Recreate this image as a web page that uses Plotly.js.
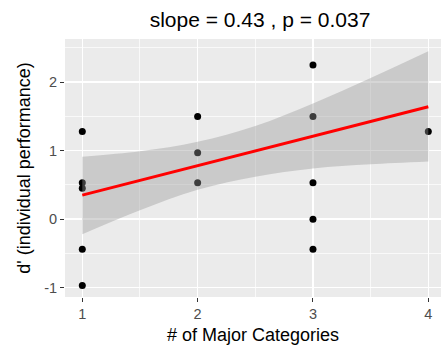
<!DOCTYPE html>
<html>
<head>
<meta charset="utf-8">
<script src="https://cdn.plot.ly/plotly-3.0.1.min.js"></script>
<style>html,body{margin:0;padding:0;overflow:hidden;background:#fff}</style>
</head>
<body>
<div id="chart" style="width:441px;height:345px"></div>
<script>
// Observed points
const majorCategories = [1, 1, 1, 1, 1, 2, 2, 2, 3, 3, 3, 3, 3, 4];
const dPrime = [1.28, 0.53, 0.45, -0.44, -0.97, 1.50, 0.97, 0.53, 2.25, 1.50, 0.53, 0.00, -0.44, 1.28];
// Fitted regression line
const fitX = [1, 4];
const fitY = [0.35, 1.64];
// Confidence band
const bandX = [1, 1.5, 2, 2.5, 3, 3.5, 4];
const bandLower = [-0.22, 0.13, 0.43, 0.62, 0.74, 0.80, 0.84];
const bandUpper = [0.91, 0.99, 1.13, 1.36, 1.69, 2.06, 2.45];
const xTickVals = [1, 2, 3, 4];
const xTickText = ['1', '2', '3', '4'];
const yTickVals = [-1, 0, 1, 2];
const yTickText = ['-1', '0', '1', '2'];
const titleText = 'slope = 0.43 , p = 0.037';
const xTitle = '# of Major Categories';
const yTitle = "d' (individual performance)";

const font = 'Liberation Sans, Arial, sans-serif';

const traces = [
  {x: majorCategories, y: dPrime, type: 'scatter', mode: 'markers',
   marker: {color: '#000000', size: 7}, hoverinfo: 'skip'},
  {x: bandX, y: bandLower, type: 'scatter', mode: 'lines',
   line: {width: 0, shape: 'spline', color: 'rgba(0,0,0,0)'}, hoverinfo: 'skip'},
  {x: bandX, y: bandUpper, type: 'scatter', mode: 'lines', fill: 'tonexty',
   fillcolor: 'rgba(153,153,153,0.4)',
   line: {width: 0, shape: 'spline', color: 'rgba(0,0,0,0)'}, hoverinfo: 'skip'},
  {x: fitX, y: fitY, type: 'scatter', mode: 'lines',
   line: {color: '#FF0000', width: 3}, hoverinfo: 'skip'}
];

const layout = {
  width: 441, height: 345,
  margin: {l: 65, r: 0, t: 39, b: 48, pad: 0},
  paper_bgcolor: '#FFFFFF',
  plot_bgcolor: '#EBEBEB',
  showlegend: false,
  font: {family: font, color: '#000000'},
  title: {text: titleText, font: {family: font, size: 21, color: '#000000'},
          x: 0.5186, xref: 'paper', xanchor: 'center',
          y: 0.943, yref: 'container', yanchor: 'middle'},
  xaxis: {
    range: [0.85, 4.11], tickvals: xTickVals, ticktext: xTickText,
    ticks: 'outside', ticklen: 4, tickwidth: 1, tickcolor: '#333333',
    tickfont: {family: font, size: 14.5, color: '#4D4D4D'},
    showgrid: true, gridcolor: '#FFFFFF', gridwidth: 1.5,
    zeroline: false, showline: false,
    minor: {dtick: 0.5, tick0: 0.5, showgrid: true, gridcolor: '#FFFFFF', gridwidth: 0.7},
    title: {text: xTitle, font: {family: font, size: 18, color: '#000000'}, standoff: 6}
  },
  yaxis: {
    range: [-1.137, 2.63], tickvals: yTickVals, ticktext: yTickText,
    ticks: 'outside', ticklen: 4, tickwidth: 1, tickcolor: '#333333',
    tickfont: {family: font, size: 14.5, color: '#4D4D4D'},
    showgrid: true, gridcolor: '#FFFFFF', gridwidth: 1.5,
    zeroline: false, showline: false,
    minor: {dtick: 0.5, tick0: 0.5, showgrid: true, gridcolor: '#FFFFFF', gridwidth: 0.7},
    title: {text: yTitle, font: {family: font, size: 18, color: '#000000'}, standoff: 8}
  }
};

Plotly.newPlot('chart', traces, layout, {staticPlot: true, displayModeBar: false});
</script>
</body>
</html>
